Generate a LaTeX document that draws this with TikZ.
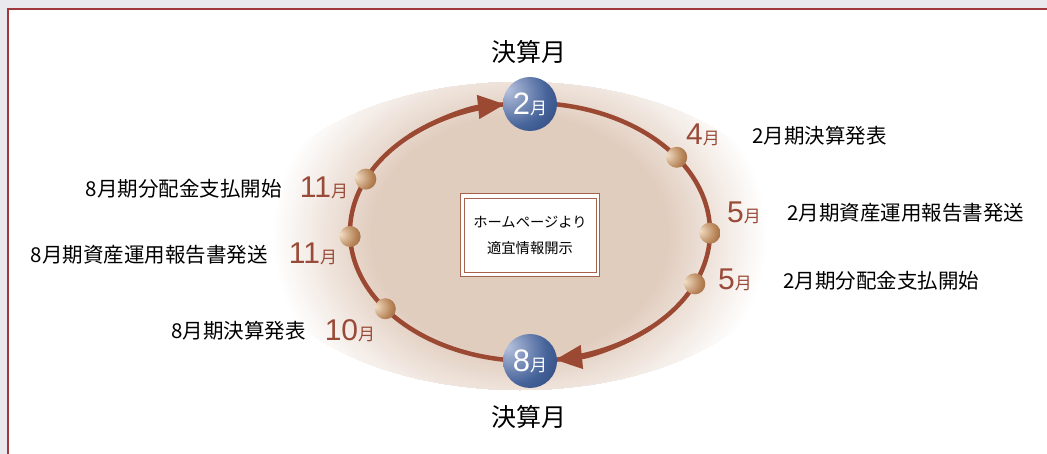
\documentclass[tikz,border=0pt]{standalone}
\usepackage{fontspec}
\setmainfont{Noto Sans CJK JP}
\newfontfamily\numfont{Liberation Sans}
\usetikzlibrary{arrows.meta}
\definecolor{bggray}{HTML}{EAE9EE}
\definecolor{framered}{HTML}{A0383C}
\definecolor{glowc}{HTML}{E1CDBE}
\definecolor{ringc}{HTML}{9C4934}
\definecolor{labc}{HTML}{9A4A38}
\definecolor{navyL}{HTML}{B8C3DE}
\definecolor{navyM}{HTML}{46639A}
\definecolor{navyD}{HTML}{1C3466}
\definecolor{ballL}{HTML}{F2DEC6}
\definecolor{ballM}{HTML}{B78457}
\definecolor{ballD}{HTML}{7A4526}
\definecolor{boxc}{HTML}{A6624C}
\pgfdeclareradialshading{navyball}{\pgfpoint{-22bp}{14bp}}{color(0bp)=(navyL); color(30bp)=(navyM); color(60bp)=(navyD); color(90bp)=(navyD)}
\pgfdeclareradialshading{bronze}{\pgfpoint{-24bp}{6bp}}{color(0bp)=(ballL); color(30bp)=(ballM); color(60bp)=(ballD); color(90bp)=(ballD)}
\tikzset{
  ringline/.style={draw=ringc, line width=4.5pt},
  arrowtip/.style={ringline, -{Triangle[length=27pt,width=23pt]}},
  bead/.style={circle, minimum size=21pt, inner sep=0pt, shading=bronze},
  navy/.style={circle, minimum size=54pt, inner sep=0pt, shading=navyball, text=white},
  monthlab/.style={text=labc, inner sep=0pt},
  eventlab/.style={font=\fontsize{20.5}{22}\selectfont, inner sep=0pt},
  titlelab/.style={font=\fontsize{25}{27}\selectfont, inner sep=0pt},
}
\newcommand{\bigmon}[1]{{\numfont\fontsize{30}{30}\selectfont #1}{\fontsize{17}{17}\selectfont 月}}
\newcommand{\navymon}[1]{{\numfont\fontsize{31}{31}\selectfont #1}{\fontsize{17}{17}\selectfont 月}}
\begin{document}
\begin{tikzpicture}[x=1pt,y=-1pt]
\useasboundingbox (0,0) rectangle (1047,454);
% background and frame
\fill[bggray] (0,0) rectangle (1047,454);
\fill[white] (8,9) rectangle (1047,454);
\draw[framered, line width=2pt] (8,454) -- (8,9) -- (1047,9);
% glow
\begin{scope}
  \clip (520,236) ellipse [x radius=272, y radius=154];
  \foreach \i in {0,...,50}{
    \pgfmathsetmacro{\rr}{1-0.4*\i/50}
    \pgfmathsetmacro{\pc}{100*\i/50}
    \fill[glowc!\pc!white] (520,236) ellipse [x radius=248*\rr, y radius=200*\rr];
  }
\end{scope}
% ring
\coordinate (c) at (530,232);
\draw[ringline] (c) ellipse [x radius=180, y radius=129];
\draw[arrowtip] ([shift={(228:180 and 129)}]c) arc[start angle=228, end angle=262, x radius=180, y radius=129];
\draw[arrowtip] ([shift={(48:180 and 129)}]c) arc[start angle=48, end angle=82, x radius=180, y radius=129];
% beads
\node[bead] (b4)  at ([shift={(-35.4:180 and 129)}]c) {};
\node[bead] (b5a) at ([shift={(0.5:180 and 129)}]c) {};
\node[bead] (b5b) at ([shift={(23.7:180 and 129)}]c) {};
\node[bead] (b11a) at ([shift={(204.2:180 and 129)}]c) {};
\node[bead] (b11b) at ([shift={(178:180 and 129)}]c) {};
\node[bead] (b10) at ([shift={(143.5:180 and 129)}]c) {};
% navy circles
\node[navy] (feb) at (530,104) {\navymon{2}};
\node[navy] (aug) at (530,361) {\navymon{8}};
% titles
\node[titlelab] (tTop) at (529,52) {決算月};
\node[titlelab] (tBot) at (529,417) {決算月};
% center box
\node[draw=boxc, line width=0.8pt, fill=white, minimum width=139pt, minimum height=83pt, inner sep=0pt] (boxo) at (529.5,234.5) {};
\node[draw=boxc, line width=0.8pt, minimum width=132pt, minimum height=74pt, inner sep=0pt, align=center, font=\fontsize{14.3}{26}\selectfont] (boxi) at (530,235) {ホームページより\\適宜情報開示};
% month labels
\node[monthlab] (m4)  at (703,135) {\bigmon{4}};
\node[monthlab] (m5a) at (744,213) {\bigmon{5}};
\node[monthlab] (m5b) at (735,280) {\bigmon{5}};
\node[monthlab] (m11a) at (324,188) {\bigmon{11}};
\node[monthlab] (m11b) at (313,254) {\bigmon{11}};
\node[monthlab] (m10) at (350,331) {\bigmon{10}};
% event labels
\node[eventlab, anchor=west] (e4)  at (752,136) {2月期決算発表};
\node[eventlab, anchor=west] (e5a) at (787,213) {2月期資産運用報告書発送};
\node[eventlab, anchor=west] (e5b) at (783,281) {2月期分配金支払開始};
\node[eventlab, anchor=east] (e11a) at (282,189) {8月期分配金支払開始};
\node[eventlab, anchor=east] (e11b) at (268,255) {8月期資産運用報告書発送};
\node[eventlab, anchor=east] (e10) at (306,331) {8月期決算発表};
\end{tikzpicture}
\end{document}
